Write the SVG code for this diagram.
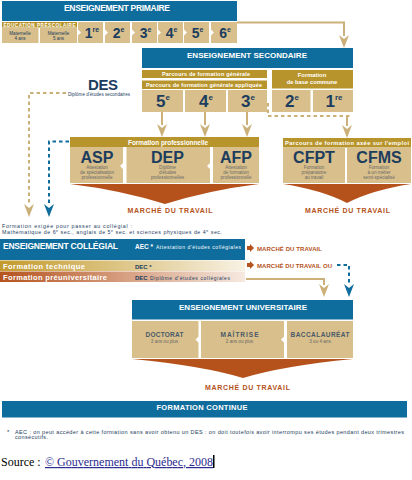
<svg xmlns="http://www.w3.org/2000/svg" width="412" height="480" viewBox="0 0 412 480">
<defs>
<style>
text{font-family:"Liberation Sans",Arial,sans-serif}
.hd{fill:#fff;font-weight:bold;text-anchor:middle}
.blue{fill:#0e6d9c}
.gold{fill:#b8952c}
.tan{fill:#d8bf8b}
.org{fill:#b5521b}
.num{fill:#1c3d5e;font-weight:bold;text-anchor:middle}
.sub{fill:#6a6a6a;font-size:4.6px;text-anchor:middle}
.wt{fill:#fff;font-weight:bold;text-anchor:middle}
.dk{fill:#1c3d5e}
.mt{fill:#b5521b;font-weight:bold;font-size:7px;text-anchor:middle}
.un{fill:#4a5a6a;font-weight:bold;font-size:6.5px;text-anchor:middle}
.tl{stroke:#cbb07a;stroke-width:2;fill:none}
.td{stroke:#cbb07a;stroke-width:2;fill:none;stroke-dasharray:3.5 3}
.bd{stroke:#0e6d9c;stroke-width:2;fill:none;stroke-dasharray:3.5 3}
.ta{fill:#cbb07a}
</style>
<linearGradient id="gT" x1="0" x2="1"><stop offset="0" stop-color="#c39a2c"/><stop offset="1" stop-color="#f8f2e4"/></linearGradient>
<linearGradient id="gP" x1="0" x2="1"><stop offset="0" stop-color="#b5531f"/><stop offset="1" stop-color="#f6e9e0"/></linearGradient>
<path id="ah" d="M-5,0 L0,4 L5,0 L0,13 Z"/>
</defs>
<rect width="412" height="480" fill="#fff"/>

<g id="primaire">
<rect class="blue" x="2" y="1" width="235" height="20"/>
<text class="hd" x="117" y="10.5" font-size="8.5" textLength="106">ENSEIGNEMENT PRIMAIRE</text>
<rect class="gold" x="2" y="22" width="75" height="5.5"/>
<text class="wt" x="39.5" y="26.5" font-size="4.6" textLength="72">ÉDUCATION PRÉSCOLAIRE</text>
<rect class="tan" x="2" y="28" width="36.5" height="15"/>
<rect class="tan" x="40" y="28" width="37" height="15"/>
<text class="dk" x="20" y="35" font-size="4.6" text-anchor="middle">Maternelle</text>
<text class="dk" x="20" y="39.5" font-size="4.6" text-anchor="middle">4 ans</text>
<text class="dk" x="58.5" y="35" font-size="4.6" text-anchor="middle">Maternelle</text>
<text class="dk" x="58.5" y="39.5" font-size="4.6" text-anchor="middle">5 ans</text>
<polygon class="tan" points="78,22 103,22 103,43 78,43 78,35.5 81,32.5 78,29.5"/>
<polygon class="tan" points="105,22 130,22 130,43 105,43 105,35.5 108,32.5 105,29.5"/>
<polygon class="tan" points="132,22 157,22 157,43 132,43 132,35.5 135,32.5 132,29.5"/>
<polygon class="tan" points="158,22 183,22 183,43 158,43 158,35.5 161,32.5 158,29.5"/>
<polygon class="tan" points="184,22 209,22 209,43 184,43 184,35.5 187,32.5 184,29.5"/>
<polygon class="tan" points="211,22 237,22 237,43 211,43 211,35.5 214,32.5 211,29.5"/>
<text class="num" x="92" y="38" font-size="14">1<tspan font-size="7" dy="-6">re</tspan></text>
<text class="num" x="118.5" y="38" font-size="14">2<tspan font-size="7" dy="-6">e</tspan></text>
<text class="num" x="145.5" y="38" font-size="14">3<tspan font-size="7" dy="-6">e</tspan></text>
<text class="num" x="171.5" y="38" font-size="14">4<tspan font-size="7" dy="-6">e</tspan></text>
<text class="num" x="197.5" y="38" font-size="14">5<tspan font-size="7" dy="-6">e</tspan></text>
<text class="num" x="225" y="38" font-size="14">6<tspan font-size="7" dy="-6">e</tspan></text>
</g>

<g id="secondaire">
<rect class="blue" x="142" y="48" width="211" height="20"/>
<text class="hd" x="247" y="58" font-size="8" textLength="120">ENSEIGNEMENT SECONDAIRE</text>
<rect class="gold" x="142" y="70" width="125" height="8"/>
<text class="wt" x="206" y="76" font-size="5.5" textLength="88">Parcours de formation générale</text>
<rect class="gold" x="142" y="80.5" width="125" height="8.5"/>
<text class="wt" x="204" y="86.7" font-size="5.5" textLength="116">Parcours de formation générale appliquée</text>
<rect class="tan" x="142" y="90" width="41" height="22"/>
<rect class="tan" x="185" y="90" width="41" height="22"/>
<rect class="tan" x="228" y="90" width="39" height="22"/>
<rect class="gold" x="272" y="70" width="81" height="18.5"/>
<text class="wt" x="312" y="76.5" font-size="5.8">Formation</text>
<text class="wt" x="312" y="84" font-size="5.8">de base commune</text>
<rect class="tan" x="272" y="90" width="38.5" height="22"/>
<rect class="tan" x="313" y="90" width="40" height="22"/>
<text class="num" x="163" y="106.5" font-size="17">5<tspan font-size="8" dy="-7">e</tspan></text>
<text class="num" x="206" y="106.5" font-size="17">4<tspan font-size="8" dy="-7">e</tspan></text>
<text class="num" x="248" y="106.5" font-size="17">3<tspan font-size="8" dy="-7">e</tspan></text>
<text class="num" x="292" y="106.5" font-size="17">2<tspan font-size="8" dy="-7">e</tspan></text>
<text class="num" x="334" y="106.5" font-size="17">1<tspan font-size="8" dy="-7">re</tspan></text>
</g>

<g id="des">
<text class="dk" x="103" y="90" font-size="15" font-weight="bold" text-anchor="middle" textLength="30">DES</text>
<text class="dk" x="68" y="95.5" font-size="4.5" textLength="62">Diplôme d'études secondaires</text>
</g>

<g id="formation-professionnelle">
<rect class="gold" x="70" y="137" width="189" height="10"/>
<text class="wt" x="168" y="144.5" font-size="6.5" textLength="80">Formation professionnelle</text>
<polygon class="tan" points="70,147 123,147 123,163 120,166 123,169 123,183 70,183"/>
<polygon class="tan" points="126.5,147 210,147 210,163 207,166 210,169 210,183 126.5,183"/>
<rect class="tan" x="213" y="147" width="46" height="36"/>
<text class="num" x="97" y="163" font-size="16">ASP</text>
<text class="sub" x="97" y="168.5">Attestation</text>
<text class="sub" x="97" y="173.5">de spécialisation</text>
<text class="sub" x="97" y="178.5">professionnelle</text>
<text class="num" x="167.5" y="163" font-size="16">DEP</text>
<text class="sub" x="167.5" y="168.5">Diplôme</text>
<text class="sub" x="167.5" y="173.5">d'études</text>
<text class="sub" x="167.5" y="178.5">professionnelles</text>
<text class="num" x="236" y="163" font-size="16">AFP</text>
<text class="sub" x="236" y="168.5">Attestation</text>
<text class="sub" x="236" y="173.5">de formation</text>
<text class="sub" x="236" y="178.5">professionnelle</text>
<path class="org" d="M70,184 H259 Q210,190 165,204 Q120,190 70,184 Z"/>
<text class="mt" x="170" y="212.5" textLength="85">MARCHÉ DU TRAVAIL</text>
</g>

<g id="formation-emploi">
<rect class="gold" x="283" y="138" width="128" height="9.5"/>
<text class="wt" x="347" y="145" font-size="5.8" textLength="124">Parcours de formation axée sur l'emploi</text>
<rect class="tan" x="283" y="147.5" width="62" height="35.5"/>
<rect class="tan" x="347" y="147.5" width="64" height="35.5"/>
<text class="num" x="314" y="163" font-size="16">CFPT</text>
<text class="sub" x="314" y="168.5">Formation</text>
<text class="sub" x="314" y="173.5">préparatoire</text>
<text class="sub" x="314" y="178.5">au travail</text>
<text class="num" x="379" y="163" font-size="16">CFMS</text>
<text class="sub" x="379" y="168.5">Formation</text>
<text class="sub" x="379" y="173.5">à un métier</text>
<text class="sub" x="379" y="178.5">semi-spécialisé</text>
<path class="org" d="M283,184 H411 Q372,190 347,203 Q322,190 283,184 Z"/>
<text class="mt" x="347.5" y="212.5" textLength="85">MARCHÉ DU TRAVAIL</text>
</g>

<g id="note-collegial">
<text class="dk" x="2" y="228" font-size="5.3" textLength="130">Formation exigée pour passer au collégial :</text>
<text class="dk" x="2" y="234" font-size="5.3" textLength="220">Mathématique de 6<tspan font-size="3.5" dy="-2">e</tspan><tspan dy="2"> sec., anglais de 5</tspan><tspan font-size="3.5" dy="-2">e</tspan><tspan dy="2"> sec. et sciences physiques de 4</tspan><tspan font-size="3.5" dy="-2">e</tspan><tspan dy="2"> sec.</tspan></text>
</g>

<g id="collegial">
<rect class="blue" x="0" y="239" width="245" height="21"/>
<text x="3" y="249" font-size="8.5" font-weight="bold" fill="#fff" textLength="115">ENSEIGNEMENT COLLÉGIAL</text>
<text x="135" y="249" font-size="6.5" font-weight="bold" fill="#fff">AEC *</text>
<text x="156" y="249" font-size="5" fill="#fff" textLength="85">Attestation d'études collégiales</text>
<rect x="0" y="260.5" width="245" height="10.5" fill="url(#gT)"/>
<text x="3" y="268.5" font-size="7.5" font-weight="bold" fill="#fff" textLength="82">Formation technique</text>
<text class="dk" x="135" y="268.5" font-size="6" font-weight="bold">DEC *</text>
<rect x="0" y="271.5" width="245" height="10.5" fill="url(#gP)"/>
<text x="3" y="279.5" font-size="7.5" font-weight="bold" fill="#fff" textLength="104">Formation préuniversitaire</text>
<text class="dk" x="135" y="279.5" font-size="6" font-weight="bold">DEC</text>
<text class="dk" x="150" y="279.5" font-size="5" textLength="80">Diplôme d'études collégiales</text>
</g>

<g id="marche-collegial">
<path class="org" d="M247,246 H250 V244 L254,248 L250,252 V250 H247 Z"/>
<text x="257" y="250.5" font-size="6" font-weight="bold" fill="#b5521b" textLength="65">MARCHÉ DU TRAVAIL</text>
<path class="org" d="M247,263 H250 V261 L254,265 L250,269 V267 H247 Z"/>
<text x="257" y="267.5" font-size="6" font-weight="bold" fill="#b5521b" textLength="75">MARCHÉ DU TRAVAIL OU</text>
</g>

<g id="universitaire">
<rect class="blue" x="132" y="300" width="221" height="19.5"/>
<text class="hd" x="243" y="309.5" font-size="8" textLength="128">ENSEIGNEMENT UNIVERSITAIRE</text>
<polygon class="tan" points="132,321 198.5,321 198.5,336.5 195.5,339.5 198.5,342.5 198.5,358 132,358"/>
<polygon class="tan" points="201,321 284,321 284,336.5 281,339.5 284,342.5 284,358 201,358"/>
<rect class="tan" x="287" y="321" width="66" height="37"/>
<text class="un" x="164.5" y="337" textLength="38">DOCTORAT</text>
<text class="sub" x="164.5" y="343">3 ans ou plus</text>
<text class="un" x="239.5" y="337" textLength="38">MAÎTRISE</text>
<text class="sub" x="239.5" y="343">2 ans ou plus</text>
<text class="un" x="320" y="337" textLength="59">BACCALAURÉAT</text>
<text class="sub" x="320" y="343">3 ou 4 ans</text>
<path class="org" d="M132,359 H353 Q282,366 243,378 Q204,366 132,359 Z"/>
<text class="mt" x="247.5" y="390" textLength="85">MARCHÉ DU TRAVAIL</text>
</g>

<g id="formation-continue">
<rect class="blue" x="2" y="401" width="405" height="16.5"/>
<text class="hd" x="202" y="409.5" font-size="7.5" textLength="91">FORMATION CONTINUE</text>
</g>

<g id="connecteurs">
<polyline class="tl" points="237,22.5 344,22.5 344,36"/>
<use href="#ah" class="ta" x="344" y="35"/>
<polyline class="td" points="66,93 29,93 29,205"/>
<use href="#ah" class="ta" x="29" y="204"/>
<polyline class="bd" points="69,141.5 49,141.5 49,205"/>
<use href="#ah" fill="#0e6d9c" x="49" y="204"/>
<line class="tl" x1="162" y1="112" x2="162" y2="125"/>
<use href="#ah" class="ta" x="162" y="124"/>
<line class="tl" x1="205" y1="112" x2="205" y2="125"/>
<use href="#ah" class="ta" x="205" y="124"/>
<line class="tl" x1="247" y1="112" x2="247" y2="125"/>
<use href="#ah" class="ta" x="247" y="124"/>
<polyline class="td" points="268,103 268,116 352,116"/>
<line class="tl" x1="347" y1="116" x2="347" y2="126"/>
<use href="#ah" class="ta" x="347" y="125"/>
<polyline class="tl" points="246,279 324,279 324,285"/>
<use href="#ah" class="ta" x="324" y="284"/>
<polyline class="bd" points="337,265 349,265 349,285"/>
<use href="#ah" fill="#0e6d9c" x="349" y="284"/>
</g>

<g id="notes">
<text class="dk" x="7" y="433.5" font-size="6">*</text>
<text class="dk" x="15" y="433.5" font-size="5.5" textLength="389">AEC : on peut accéder à cette formation sans avoir obtenu un DES : on doit toutefois avoir interrompu ses études pendant deux trimestres</text>
<text class="dk" x="15" y="438.5" font-size="5.5" textLength="33">consécutifs.</text>
<text x="1" y="466" font-size="12" fill="#000" style="font-family:'Liberation Serif','Times New Roman',serif">Source : </text>
<text x="45" y="466" font-size="12" fill="#2b2b8f" text-decoration="underline" textLength="168" style="font-family:'Liberation Serif','Times New Roman',serif">© Gouvernement du Québec, 2008</text>
<rect x="213" y="455" width="1.5" height="13" fill="#000"/>
</g>
</svg>
